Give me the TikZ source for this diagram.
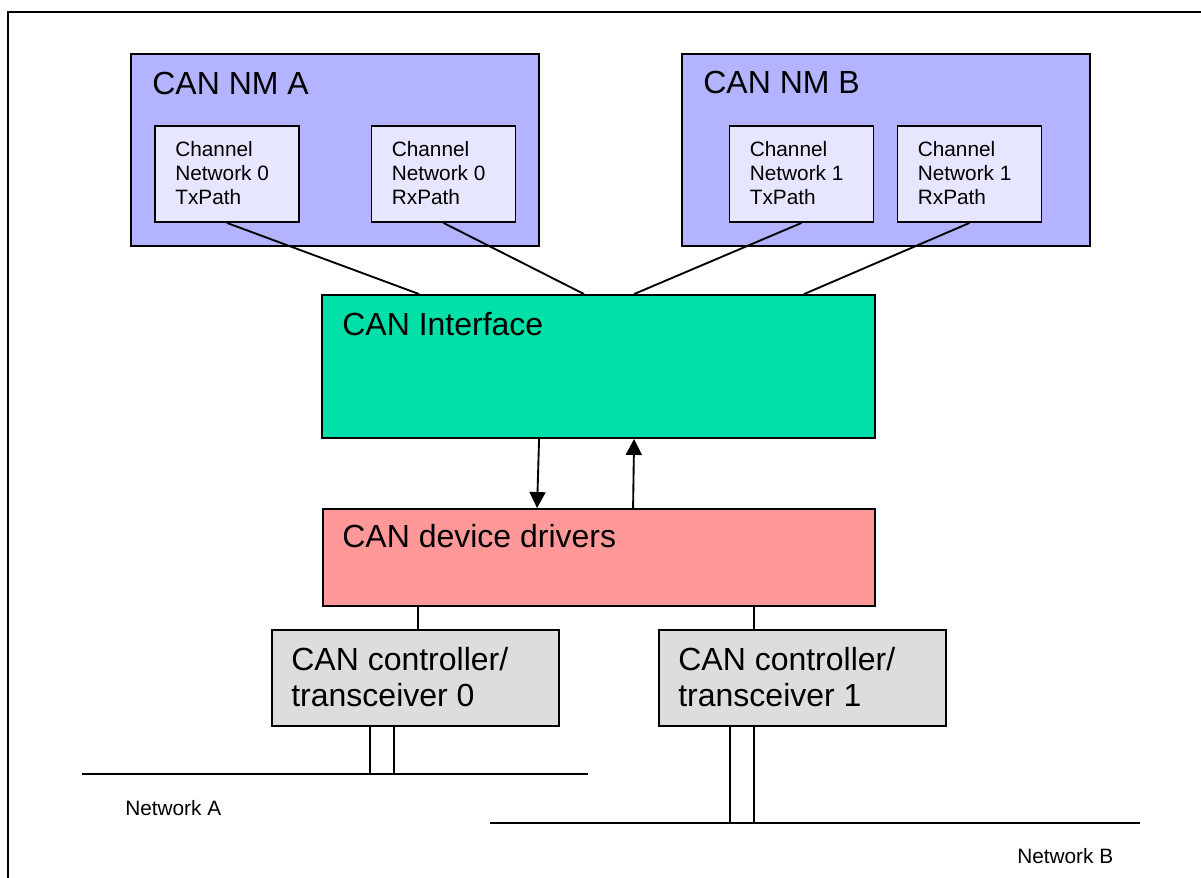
\documentclass[tikz,border=0pt]{standalone}
\usepackage{fontspec}
\setmainfont{Liberation Sans}
\usetikzlibrary{arrows.meta}

\definecolor{nmblue}{RGB}{179,179,255}
\definecolor{pathblue}{RGB}{230,230,255}
\definecolor{ifgreen}{RGB}{0,224,168}
\definecolor{drvred}{RGB}{255,153,153}
\definecolor{ctlgrey}{RGB}{221,221,221}

\begin{document}
\begin{tikzpicture}[x=0.75pt,y=-0.75pt]
        % Define styles for the boxes and their texts
        \tikzset{
            box_nm/.style={draw, line width=1.4pt, fill=nmblue, inner sep=0pt, minimum width=306pt, minimum height=144pt},
            box_path/.style={draw, line width=1.4pt, fill=pathblue, inner sep=0pt, minimum width=108pt, minimum height=72pt},
            box_ctl/.style={draw, line width=1.4pt, fill=ctlgrey, inner sep=0pt, minimum width=215.25pt, minimum height=72pt},
            txt_big/.style={inner sep=0pt, anchor=base west, align=left, font=\fontsize{24}{27}\selectfont},
            txt_small/.style={inner sep=0pt, anchor=base west, align=left, font=\fontsize{15.6}{18}\selectfont},
            wire/.style={line width=1.4pt},
            flow/.style={line width=1.4pt, -{Triangle[length=12pt, width=12pt]}}
        }

        % Page and frame
        \useasboundingbox (0,0) rectangle (1201,877);
        \draw[line width=1.4pt] (8,12) rectangle (1230,900);

        % CAN NM A with its two channel paths
        \node[box_nm] (nma) at (335,150) {};
        \node[txt_big] (nma_txt) at ([shift={(22,41)}]nma.north west) {CAN NM A};
        \node[box_path] (txa) at (227,174) {};
        \node[txt_small] (txa_txt) at ([shift={(21,79)}]txa.north west) {Channel\\Network 0\\TxPath};
        \node[box_path] (rxa) at (443.5,174) {};
        \node[txt_small] (rxa_txt) at ([shift={(21,79)}]rxa.north west) {Channel\\Network 0\\RxPath};

        % CAN NM B with its two channel paths
        \node[box_nm] (nmb) at (886,150) {};
        \node[txt_big] (nmb_txt) at ([shift={(22,40)}]nmb.north west) {CAN NM B};
        \node[box_path] (txb) at (801.5,174) {};
        \node[txt_small] (txb_txt) at ([shift={(21,79)}]txb.north west) {Channel\\Network 1\\TxPath};
        \node[box_path] (rxb) at (969.5,174) {};
        \node[txt_small] (rxb_txt) at ([shift={(21,79)}]rxb.north west) {Channel\\Network 1\\RxPath};

        % CAN Interface and device drivers
        \node[draw, line width=1.4pt, fill=ifgreen, inner sep=0pt, minimum width=414.75pt, minimum height=107.25pt] (canif) at (598.5,366.5) {};
        \node[txt_big] (canif_txt) at ([shift={(21,41)}]canif.north west) {CAN Interface};
        \node[draw, line width=1.4pt, fill=drvred, inner sep=0pt, minimum width=414pt, minimum height=72.75pt] (drv) at (599,557.5) {};
        \node[txt_big] (drv_txt) at ([shift={(20,39)}]drv.north west) {CAN device drivers};

        % Controllers / transceivers
        \node[box_ctl] (ctl0) at (415.5,678) {};
        \node[txt_big] (ctl0_txt) at ([shift={(20,77)}]ctl0.north west) {CAN controller/\\transceiver 0};
        \node[box_ctl] (ctl1) at (802.5,678) {};
        \node[txt_big] (ctl1_txt) at ([shift={(20,77)}]ctl1.north west) {CAN controller/\\transceiver 1};

        % Channel paths to the interface
        \draw[wire] (txa.south) -- ([shift={(98,0)}]canif.north west);
        \draw[wire] (rxa.south) -- ([shift={(263,0)}]canif.north west);
        \draw[wire] (txb.south) -- ([shift={(313,0)}]canif.north west);
        \draw[wire] (rxb.south) -- ([shift={(483,0)}]canif.north west);

        % Interface <-> drivers
        \draw[flow] ([shift={(218,0)}]canif.south west) -- ([shift={(215,0)}]drv.north west);
        \draw[flow] ([shift={(311,0)}]drv.north west) -- ([shift={(313,0)}]canif.south west);

        % Drivers to controllers
        \draw[wire] ([shift={(96,0)}]drv.south west) -- ([shift={(147,0)}]ctl0.north west);
        \draw[wire] ([shift={(432,0)}]drv.south west) -- ([shift={(96,0)}]ctl1.north west);

        % Networks
        \coordinate (neta_l) at (82,774);
        \coordinate (neta_r) at (588,774);
        \coordinate (netb_l) at (490,823);
        \coordinate (netb_r) at (1140,823);
        \draw[wire] (neta_l) -- (neta_r);
        \draw[wire] (netb_l) -- (netb_r);
        \node[txt_small] (neta_txt) at (125,815) {Network A};
        \node[txt_small] (netb_txt) at (1017,863) {Network B};

        % Controller legs down to the networks
        \path ([shift={(99,0)}]ctl0.south west) coordinate (leg_a0)
              ([shift={(123,0)}]ctl0.south west) coordinate (leg_a1)
              ([shift={(72,0)}]ctl1.south west) coordinate (leg_b0)
              ([shift={(96,0)}]ctl1.south west) coordinate (leg_b1);
        \foreach \leg in {leg_a0, leg_a1} {
            \draw[wire] (\leg) -- (\leg |- neta_l);
        }
        \foreach \leg in {leg_b0, leg_b1} {
            \draw[wire] (\leg) -- (\leg |- netb_l);
        }

    \end{tikzpicture}
\end{document}
